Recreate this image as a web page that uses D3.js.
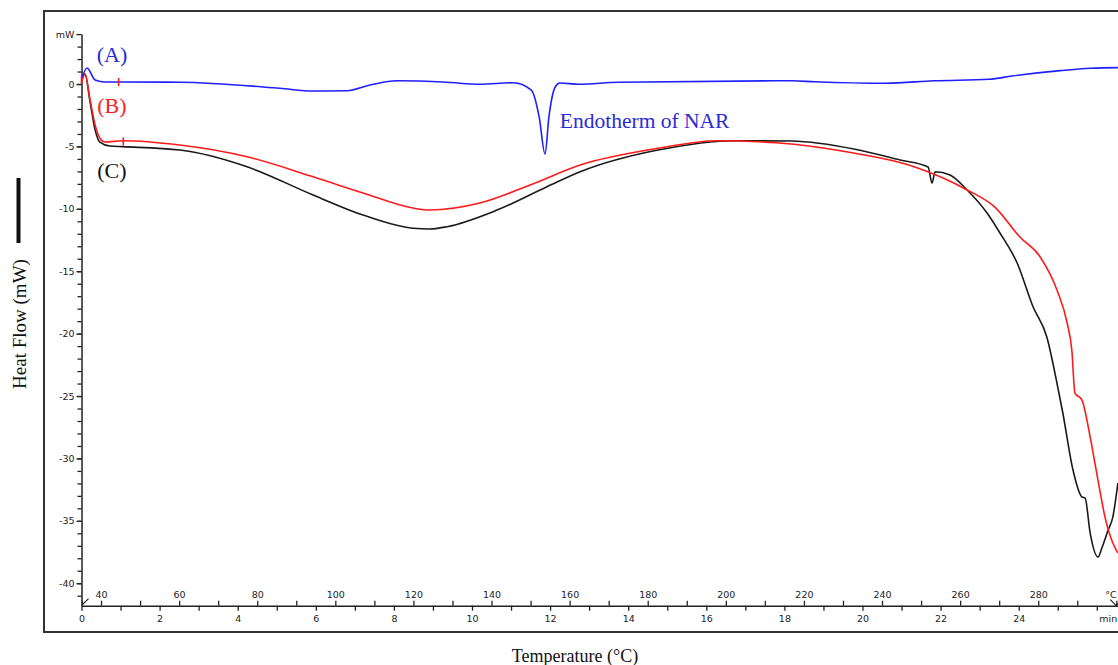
<!DOCTYPE html>
<html>
<head>
<meta charset="utf-8">
<script src="https://cdn.jsdelivr.net/npm/d3@7"></script>
<style>
  body { margin: 0; background: #fff; }
  #chart { width: 1118px; height: 665px; overflow: hidden; }
  .tick text { font-family: "DejaVu Sans", Verdana, sans-serif; font-size: 9.5px; fill: #222; }
  .serif { font-family: "Liberation Serif", "Times New Roman", serif; }
</style>
</head>
<body>
<div id="chart"></div>
<script>
// Time (min) vs heat flow (mW)
const curveA = [
  [0.01, 0.48], [0.14, 1.28], [0.35, 0.32], [0.60, 0.16], [0.99, 0.16], [2.52, 0.14],
  [5.08, -0.34], [5.93, -0.56], [6.80, -0.54], [7.39, -0.08], [8.08, 0.26], [9.36, 0.14],
  [10.20, -0.02], [11.05, 0.10], [11.52, -0.48], [11.72, -2.64], [11.87, -5.61],
  [11.97, -2.64], [12.13, -0.24], [12.25, 0.08], [12.74, -0.02], [13.74, 0.14],
  [18.19, 0.26], [18.78, 0.18], [20.60, 0.06], [21.83, 0.26], [23.24, 0.38],
  [23.83, 0.64], [25.06, 1.07], [25.85, 1.26], [26.54, 1.31]
];
const curveB = [
  [0.00, 0.16], [0.09, 0.80], [0.22, -1.28], [0.35, -3.29], [0.47, -4.33], [0.60, -4.65],
  [1.06, -4.54], [2.52, -4.89], [4.24, -5.83], [5.93, -7.43], [7.21, -8.73], [8.49, -9.94],
  [8.92, -10.10], [10.20, -9.54], [11.49, -8.09], [12.77, -6.49], [14.76, -5.15],
  [16.27, -4.54], [17.78, -4.70], [19.81, -5.55], [21.32, -6.63], [22.68, -8.49],
  [23.39, -9.86], [24.03, -12.26], [24.55, -13.86], [24.98, -16.51], [25.24, -19.15],
  [25.36, -21.31], [25.44, -24.76], [25.62, -25.32], [25.83, -28.29], [26.03, -31.73],
  [26.21, -34.70], [26.41, -36.78], [26.54, -37.58]
];
const curveC = [
  [0.01, 0.32], [0.09, 0.80], [0.22, -1.44], [0.35, -3.69], [0.47, -4.65], [0.73, -4.97],
  [1.06, -5.02], [2.52, -5.29], [4.24, -6.63], [5.93, -8.89], [7.21, -10.50], [8.49, -11.56],
  [8.92, -11.62], [9.36, -11.43], [10.64, -10.10], [11.92, -8.23], [12.77, -7.03],
  [14.76, -5.29], [16.76, -4.54], [18.19, -4.57], [19.81, -5.23], [20.96, -6.09],
  [21.68, -6.65], [21.78, -7.93], [21.86, -7.03], [22.24, -7.29], [22.68, -8.49],
  [23.19, -10.34], [23.52, -11.94], [23.96, -14.34], [24.37, -17.87], [24.72, -20.27],
  [24.98, -23.96], [25.13, -26.36], [25.39, -30.93], [25.62, -33.09], [25.70, -33.17],
  [25.83, -35.98], [26.03, -37.90], [26.13, -37.18], [26.29, -35.74], [26.41, -34.70],
  [26.54, -31.97]
];
// red cursor marks left by the instrument software
const cursorMarks = [[0.0, 0.3], [0.95, 0.16], [1.07, -4.6]];

const timeTicks = d3.range(0, 27, 1);          // minutes
const tempTicks = d3.range(40, 301, 10);       // °C
const yMajorTicks = [4, 0, -5, -10, -15, -20, -25, -30, -35, -40];
const yMinorTicks = d3.range(-41, 4, 1);

const width = 1118, height = 665;

const svg = d3.select("#chart").append("svg")
  .attr("width", width)
  .attr("height", height);

// scales
const x = d3.scaleLinear().domain([0, 26.6]).range([81.5, 81.5 + 26.6 * 39.05]);
const xTemp = d3.scaleLinear().domain([35, 301]).range(x.range());
const y = d3.scaleLinear().domain([4, -41.8]).range([34.1, 605.7]);

// outer frame
svg.append("rect")
  .attr("x", 44).attr("y", 11)
  .attr("width", 1200).attr("height", 621)
  .attr("fill", "none")
  .attr("stroke", "#333")
  .attr("stroke-width", 2);

// y axis (minor then major)
svg.append("g")
  .attr("transform", `translate(${x(0)},0)`)
  .call(d3.axisLeft(y).tickValues(yMinorTicks).tickSize(4).tickFormat(""))
  .call(g => g.select(".domain").remove())
  .call(g => g.selectAll("line").attr("stroke", "#222").attr("stroke-width", 1.3));

svg.append("g")
  .attr("transform", `translate(${x(0)},0)`)
  .call(d3.axisLeft(y).tickValues(yMajorTicks).tickSize(5).tickSizeOuter(0).tickPadding(2)
    .tickFormat(d => d === 4 ? "mW" : d))
  .call(g => g.select(".domain").attr("stroke", "#222").attr("stroke-width", 1.5))
  .call(g => g.selectAll("line").attr("stroke", "#222").attr("stroke-width", 1.3));

// bottom axis: time
const axisY = y(-41.8);
svg.append("g")
  .attr("transform", `translate(0,${axisY})`)
  .call(d3.axisBottom(x).tickValues(timeTicks).tickSize(5).tickSizeOuter(0).tickPadding(5)
    .tickFormat(d => d === 26 ? "min" : (d % 2 === 0 ? d : "")))
  .call(g => g.select(".domain").attr("stroke", "#222").attr("stroke-width", 1.5))
  .call(g => g.selectAll("line").attr("stroke", "#222").attr("stroke-width", 1.3))
  .call(g => g.selectAll(".tick text").filter(d => d === 26).attr("dx", 11));

// top-side labels on the same line: temperature
svg.append("g")
  .attr("transform", `translate(0,${axisY})`)
  .call(d3.axisTop(xTemp).tickValues(tempTicks).tickSize(5).tickSizeOuter(0).tickPadding(3)
    .tickFormat(d => d === 300 ? "°C" : (d % 20 === 0 ? d : "")))
  .call(g => g.select(".domain").remove())
  .call(g => g.selectAll("line").attr("stroke", "#222").attr("stroke-width", 1.3))
  .call(g => g.selectAll(".tick text").filter(d => d === 300).attr("dx", -6));

// small arrow marks at origin and at the °C end
svg.append("path")
  .attr("d", `M${x(0) + 1},${axisY - 1} l6,-6 M${x(0) + 1},${axisY - 1} l0,-4`)
  .attr("stroke", "#222").attr("fill", "none").attr("stroke-width", 1.2);
svg.append("path")
  .attr("d", `M${xTemp(300) - 6},${axisY - 6} L${xTemp(300)},${axisY} L${xTemp(300) + 5},${axisY - 6}`)
  .attr("stroke", "#222").attr("fill", "none").attr("stroke-width", 1.2);

// curves
const line = d3.line()
  .x(d => x(d[0]))
  .y(d => y(d[1]))
  .curve(d3.curveMonotoneX);

const series = [
  { data: curveC, color: "#1a1a1a" },
  { data: curveB, color: "#ff1a1a" },
  { data: curveA, color: "#1f1fff" }
];

svg.selectAll("path.curve")
  .data(series)
  .enter()
  .append("path")
  .attr("class", "curve")
  .attr("d", d => line(d.data))
  .attr("fill", "none")
  .attr("stroke", d => d.color)
  .attr("stroke-width", 1.6)
  .attr("stroke-linejoin", "round");

svg.selectAll("line.cursor")
  .data(cursorMarks)
  .enter()
  .append("line")
  .attr("class", "cursor")
  .attr("x1", d => x(d[0])).attr("x2", d => x(d[0]))
  .attr("y1", d => y(d[1]) - 4).attr("y2", d => y(d[1]) + 4)
  .attr("stroke", "#ff1a1a")
  .attr("stroke-width", 1.6);

// curve labels
const labels = [
  { text: "(A)", t: 0.78, v: 1.75, color: "#2b2bd6" },
  { text: "(B)", t: 0.78, v: -2.3, color: "#ff2020" },
  { text: "(C)", t: 0.78, v: -7.5, color: "#111" },
  { text: "Endotherm of NAR", t: 12.25, v: -3.55, color: "#2b2bd6", anchor: "start" }
];
svg.selectAll("text.lbl")
  .data(labels)
  .enter()
  .append("text")
  .attr("class", "lbl serif")
  .attr("x", d => x(d.t))
  .attr("y", d => y(d.v))
  .attr("text-anchor", d => d.anchor || "middle")
  .attr("font-size", d => d.anchor ? 21.5 : 22)
  .attr("fill", d => d.color)
  .text(d => d.text);

// axis titles and scale bar
svg.append("text")
  .attr("class", "serif")
  .attr("transform", "translate(26,324) rotate(-90)")
  .attr("text-anchor", "middle")
  .attr("font-size", 19)
  .attr("fill", "#111")
  .text("Heat Flow (mW)");

svg.append("rect")
  .attr("x", 16.5).attr("y", 178)
  .attr("width", 4).attr("height", 65)
  .attr("fill", "#111");

svg.append("text")
  .attr("class", "serif")
  .attr("x", 575).attr("y", 662)
  .attr("text-anchor", "middle")
  .attr("font-size", 18)
  .attr("fill", "#111")
  .text("Temperature (°C)");
</script>
</body>
</html>
